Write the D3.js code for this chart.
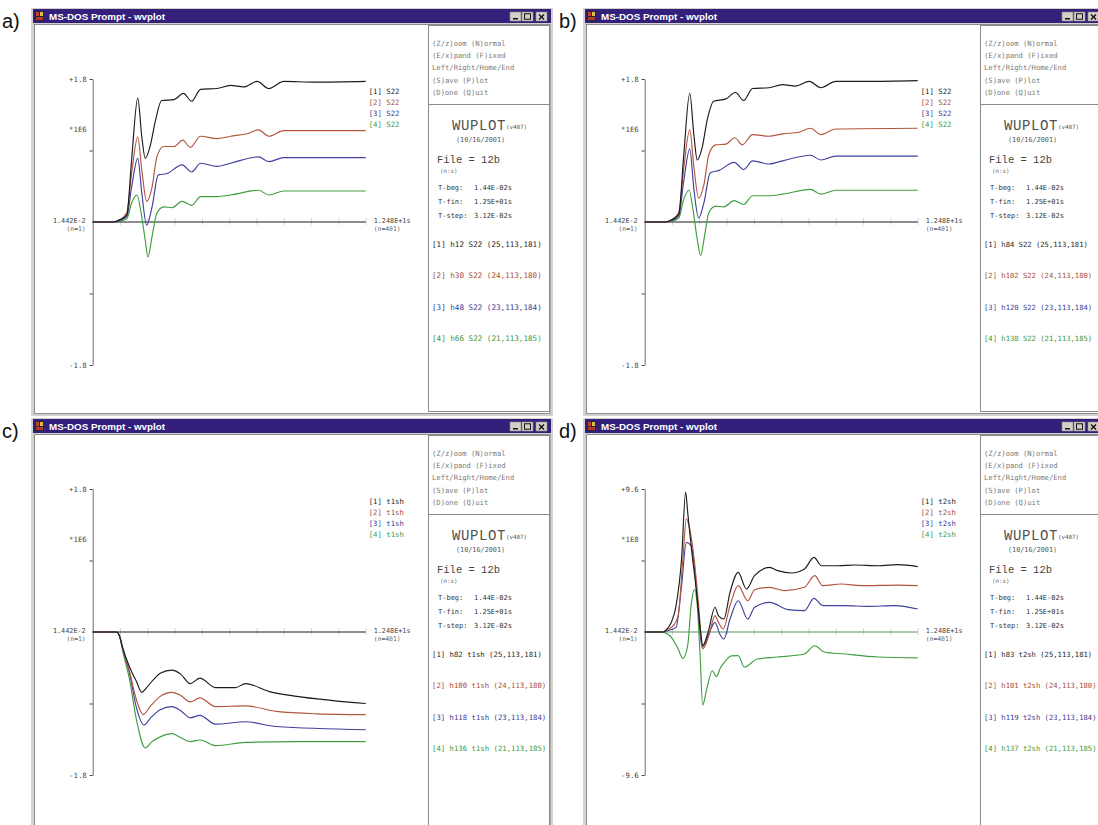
<!DOCTYPE html>
<html><head><meta charset="utf-8">
<script src="https://d3js.org/d3.v7.min.js"></script>
<style>body{margin:0;background:#fff;}svg{display:block;}</style>
</head><body>
<svg id="fig" width="1098" height="825"></svg>
<script>
// ---- wvplot traces: [sample index n, value] (n = 1 .. 401) ----
// a) S22 traces, h12 / h30 / h48 / h66  (x1E6)
const a1 = [[1,0],[31,0],[41,0.03],[51,0.09],[58,0.78],[67,1.56],[73,1.07],[78,0.80],[85,0.95],[93,1.28],[102,1.53],[120,1.54],[134,1.62],[146,1.52],[159,1.67],[183,1.68],[203,1.72],[222,1.70],[242,1.77],[259,1.68],[281,1.77],[325,1.76],[401,1.77]];
const a2 = [[1,0],[31,0],[41,0.03],[51,0.12],[58,0.61],[67,1.07],[73,0.65],[80,0.26],[88,0.44],[95,0.82],[105,0.95],[120,0.95],[133,1.03],[144,0.94],[159,1.08],[183,1.05],[203,1.08],[227,1.11],[244,1.16],[259,1.08],[281,1.15],[401,1.15]];
const a3 = [[1,0],[31,0],[41,0.02],[51,0.07],[58,0.44],[67,0.80],[73,0.36],[80,-0.04],[88,0.19],[97,0.59],[110,0.61],[132,0.72],[146,0.63],[159,0.74],[183,0.70],[203,0.74],[244,0.82],[259,0.76],[281,0.81],[401,0.81]];
const a4 = [[1,0],[31,0],[41,0.01],[51,0.04],[58,0.24],[66,0.34],[72,0.11],[78,-0.23],[82,-0.44],[88,-0.18],[95,0.11],[105,0.19],[117,0.18],[132,0.26],[146,0.21],[159,0.32],[183,0.32],[203,0.34],[244,0.40],[259,0.34],[281,0.39],[401,0.39]];

// b) S22 traces, h84 / h102 / h120 / h138  (x1E6)
const b1 = [[1,0],[31,0],[41,0.03],[51,0.10],[58,0.82],[67,1.62],[73,1.10],[78,0.78],[85,0.93],[93,1.30],[102,1.52],[120,1.55],[134,1.63],[146,1.53],[159,1.68],[183,1.69],[203,1.73],[222,1.71],[242,1.77],[259,1.69],[281,1.77],[325,1.77],[401,1.78]];
const b2 = [[1,0],[31,0],[41,0.03],[51,0.12],[58,0.66],[67,1.16],[73,0.70],[80,0.30],[88,0.48],[95,0.85],[105,0.97],[120,0.98],[133,1.06],[144,0.97],[159,1.10],[183,1.08],[203,1.11],[227,1.13],[244,1.18],[259,1.10],[281,1.17],[401,1.18]];
const b3 = [[1,0],[31,0],[41,0.02],[51,0.08],[58,0.50],[67,0.92],[73,0.42],[80,0.05],[88,0.25],[97,0.62],[110,0.65],[132,0.75],[146,0.66],[159,0.77],[183,0.73],[203,0.77],[244,0.84],[259,0.78],[281,0.83],[401,0.83]];
const b4 = [[1,0],[31,0],[41,0.01],[51,0.05],[58,0.28],[66,0.40],[72,0.14],[78,-0.22],[83,-0.42],[89,-0.16],[95,0.12],[105,0.20],[117,0.19],[132,0.27],[146,0.22],[159,0.33],[183,0.33],[203,0.35],[244,0.41],[259,0.35],[281,0.40],[401,0.40]];

// c) t1sh traces, h82 / h100 / h118 / h136  (x1E6)
const c1 = [[1,0],[36,0],[40,-0.04],[45,-0.20],[55,-0.44],[65,-0.62],[73,-0.76],[80,-0.70],[90,-0.60],[100,-0.52],[117,-0.48],[130,-0.53],[144,-0.65],[158,-0.58],[181,-0.70],[210,-0.70],[225,-0.65],[260,-0.75],[300,-0.81],[350,-0.86],[401,-0.90]];
const c2 = [[1,0],[36,0],[40,-0.04],[45,-0.21],[55,-0.50],[65,-0.85],[75,-1.04],[85,-0.94],[100,-0.81],[117,-0.76],[130,-0.80],[144,-0.88],[158,-0.83],[181,-0.94],[225,-0.93],[270,-1.00],[330,-1.03],[401,-1.04]];
const c3 = [[1,0],[36,0],[40,-0.04],[45,-0.22],[55,-0.52],[65,-0.95],[76,-1.17],[86,-1.08],[100,-0.98],[117,-0.94],[130,-0.99],[144,-1.08],[158,-1.05],[181,-1.16],[225,-1.13],[270,-1.19],[401,-1.23]];
const c4 = [[1,0],[36,0],[40,-0.05],[45,-0.24],[55,-0.60],[65,-1.10],[78,-1.46],[88,-1.38],[100,-1.32],[117,-1.28],[130,-1.33],[144,-1.38],[158,-1.36],[181,-1.43],[225,-1.39],[300,-1.38],[401,-1.38]];

// d) t2sh traces, h83 / h101 / h119 / h137  (x1E8)
const d1 = [[1,0],[28,0],[33,0.16],[40,0.65],[47,1.77],[55,4.9],[61,9.38],[64,8.03],[69,5.8],[77,2.66],[83,0],[86,-0.92],[94,0],[104,1.66],[109,1.10],[117,0.87],[126,2.66],[138,4.0],[150,2.89],[162,3.78],[184,4.34],[196,4.12],[216,3.96],[235,4.23],[249,5.01],[260,4.45],[284,4.45],[309,4.5],[343,4.45],[372,4.52],[401,4.39]];
const d2 = [[1,0],[28,0],[33,0.13],[43,0.43],[50,1.10],[57,4.9],[62,7.59],[67,6.9],[74,4.68],[80,1.77],[86,-1.14],[95,-0.25],[104,1.1],[108,0.76],[116,0.2],[126,1.77],[138,3.11],[152,2.1],[162,2.84],[184,3.0],[206,2.78],[235,3.0],[250,3.78],[262,3.11],[289,3.22],[318,3.11],[372,3.15],[401,3.11]];
const d3s = [[1,0],[28,0],[33,0.07],[47,0.31],[55,3.1],[62,6.02],[69,5.8],[74,4.23],[79,1.77],[85,-1.03],[96,0],[104,0.65],[111,-0.13],[117,-0.47],[126,0.87],[138,2.1],[152,0.87],[162,1.66],[184,1.99],[211,1.5],[235,1.43],[249,2.26],[262,1.77],[294,1.77],[328,1.72],[367,1.77],[401,1.54]];
const d4 = [[1,0],[25,0],[38,-0.25],[50,-1.14],[57,-1.77],[64,-0.92],[69,1.77],[74,2.84],[78,1.77],[82,-1.37],[86,-4.9],[92,-3.8],[100,-2.6],[106,-3.0],[112,-2.4],[120,-1.9],[128,-1.6],[138,-1.59],[147,-2.35],[166,-1.81],[196,-1.68],[235,-1.48],[250,-0.92],[264,-1.34],[294,-1.48],[343,-1.68],[401,-1.74]];

// ---- text shown in each window ----
const panelLabels = ["a)", "b)", "c)", "d)"];
const yTopLabels = ["+1.8", "+1.8", "+1.8", "+9.6"];
const yBotLabels = ["-1.8", "-1.8", "-1.8", "-9.6"];
const yMax = [1.8, 1.8, 1.8, 9.6];
const multLabels = ["*1E6", "*1E6", "*1E6", "*1E8"];
const traceNames = ["S22", "S22", "t1sh", "t2sh"];
const aInfo = ["[1] h12 S22 (25,113,181)", "[2] h30 S22 (24,113,180)", "[3] h48 S22 (23,113,184)", "[4] h66 S22 (21,113,185)"];
const bInfo = ["[1] h84 S22 (25,113,181)", "[2] h102 S22 (24,113,180)", "[3] h120 S22 (23,113,184)", "[4] h138 S22 (21,113,185)"];
const cInfo = ["[1] h82 t1sh (25,113,181)", "[2] h100 t1sh (24,113,180)", "[3] h118 t1sh (23,113,184)", "[4] h136 t1sh (21,113,185)"];
const dInfo = ["[1] h83 t2sh (25,113,181)", "[2] h101 t2sh (24,113,180)", "[3] h119 t2sh (23,113,184)", "[4] h137 t2sh (21,113,185)"];
const menuLines = ["(Z/z)oom  (N)ormal", "(E/x)pand (F)ixed", "Left/Right/Home/End", "(S)ave (P)lot", "(D)one (Q)uit"];
const timeRows = [["T-beg:", "1.44E-02s"], ["T-fin:", "1.25E+01s"], ["T-step:", "3.12E-02s"]];
const xStartLabel = ["1.442E-2", "(n=1)"];
const xEndLabel = ["1.248E+1s", "(n=401)"];
const windowTitle = "MS-DOS Prompt - wvplot";

// ---- styling ----
const MONO = "'DejaVu Sans Mono','Liberation Mono',monospace";
const THIN = "'Liberation Mono','DejaVu Sans Mono',monospace";
const SANS = "'Liberation Sans',Arial,sans-serif";
const lineColors = ["#1c1c1c", "#b3553e", "#40409e", "#3f9f3f"];
const textColors = ["#262626", "#a64c36", "#3b3b92", "#3a983a"];
const TITLE_BG = "#34207b";

const windows = [
  {ox: 32,  oy: 8,   h: 408, lx: 2,   ly: 28,  series: [a1, a2, a3, a4], info: aInfo, infoSize: 7.6, zeroColor: "#1a1a1a"},
  {ox: 584, oy: 8,   h: 408, lx: 559, ly: 28,  series: [b1, b2, b3, b4], info: bInfo, infoSize: 7.2, zeroColor: "#1a1a1a"},
  {ox: 32,  oy: 418, h: 420, lx: 2,   ly: 438, series: [c1, c2, c3, c4], info: cInfo, infoSize: 7.3, zeroColor: "#1a1a1a"},
  {ox: 584, oy: 418, h: 420, lx: 559, ly: 438, series: [d1, d2, d3s, d4], info: dInfo, infoSize: 7.2, zeroColor: "#5c935c"}
];

const W = 521;          // window width
const AX = 60.7;        // y-axis position inside window
const AXW = 273;        // x-axis length
const ZY = 214;         // zero line inside window
const HH = 143;         // half plot height
const PL = 396, PR = 517; // info panel edges

const svg = d3.select("#fig");

windows.forEach((w, i) => {
  const g = svg.append("g").attr("transform", `translate(${w.ox},${w.oy})`);

  // window frame
  g.append("rect").attr("x", -1).attr("y", 0).attr("width", W + 1).attr("height", w.h)
    .attr("fill", "#d3d1cd");
  g.append("rect").attr("x", 1).attr("y", 1).attr("width", W - 3).attr("height", 14)
    .attr("fill", TITLE_BG);
  // title icon
  g.append("rect").attr("x", 3).attr("y", 3).attr("width", 9).attr("height", 10).attr("fill", "#2a2a2a");
  g.append("rect").attr("x", 4).attr("y", 4).attr("width", 3).attr("height", 4).attr("fill", "#c84030");
  g.append("rect").attr("x", 8).attr("y", 4).attr("width", 3).attr("height", 4).attr("fill", "#e0c040");
  g.append("rect").attr("x", 4).attr("y", 9).attr("width", 7).attr("height", 3).attr("fill", "#b03a2a");
  g.append("text").attr("x", 17).attr("y", 12).text(windowTitle)
    .attr("font-family", SANS).attr("font-weight", "bold").attr("font-size", 9.8).attr("fill", "#fff");
  // caption buttons
  [478, 490, 504].forEach((bx, k) => {
    g.append("rect").attr("x", bx).attr("y", 4).attr("width", 11).attr("height", 9)
      .attr("fill", "#d4d0c8").attr("stroke", "#8a8a8a").attr("stroke-width", 0.6);
    if (k === 0) g.append("rect").attr("x", bx + 3).attr("y", 10).attr("width", 5).attr("height", 1.5).attr("fill", "#111");
    if (k === 1) g.append("rect").attr("x", bx + 2.5).attr("y", 5.8).attr("width", 6).attr("height", 5.4)
      .attr("fill", "none").attr("stroke", "#111").attr("stroke-width", 1);
    if (k === 2) g.append("path").attr("d", `M${bx+3},6.5L${bx+8},11.5M${bx+8},6.5L${bx+3},11.5`)
      .attr("stroke", "#111").attr("stroke-width", 1.4);
  });

  // client area
  g.append("rect").attr("x", 2.5).attr("y", 16.5).attr("width", W - 5.5).attr("height", w.h - 19)
    .attr("fill", "#fff").attr("stroke", "#8c8c8c").attr("stroke-width", 1);
  // info panel
  g.append("rect").attr("x", PL + 0.5).attr("y", 17.5).attr("width", PR - PL).attr("height", w.h - 22)
    .attr("fill", "#fff").attr("stroke", "#8a8a8a").attr("stroke-width", 1);
  g.append("line").attr("x1", PL).attr("x2", PR).attr("y1", 96.5).attr("y2", 96.5)
    .attr("stroke", "#8a8a8a").attr("stroke-width", 1);

  // info panel text
  menuLines.forEach((t, k) => {
    g.append("text").attr("x", PL + 4).attr("y", 37.5 + k * 12.4).text(t)
      .attr("font-family", MONO).attr("font-size", 7.2).attr("fill", "#7a7a7a");
  });
  g.append("text").attr("x", PL + 24).attr("y", 122).text("WUPLOT")
    .attr("font-family", THIN).attr("font-size", 14).attr("fill", "#505050").attr("letter-spacing", 0.6);
  g.append("text").attr("x", PL + 78).attr("y", 121).text("(v407)")
    .attr("font-family", MONO).attr("font-size", 5.8).attr("fill", "#555");
  g.append("text").attr("x", PL + 28).attr("y", 134).text("(10/16/2001)")
    .attr("font-family", MONO).attr("font-size", 6.8).attr("fill", "#555");
  g.append("text").attr("x", PL + 9).attr("y", 155).text("File = 12b")
    .attr("font-family", THIN).attr("font-size", 10.5).attr("fill", "#444");
  g.append("text").attr("x", PL + 12).attr("y", 164.5).text("(n:s)")
    .attr("font-family", MONO).attr("font-size", 5.8).attr("fill", "#666");
  timeRows.forEach((r, k) => {
    const y = 181.5 + k * 14;
    g.append("text").attr("x", PL + 10).attr("y", y).text(r[0])
      .attr("font-family", MONO).attr("font-size", 7).attr("fill", "#333");
    g.append("text").attr("x", PL + 46).attr("y", y).text(r[1])
      .attr("font-family", MONO).attr("font-size", 7).attr("fill", "#333");
  });
  w.info.forEach((t, k) => {
    g.append("text").attr("x", PL + 4).attr("y", 238.5 + k * 31.5).text(t)
      .attr("font-family", MONO).attr("font-size", w.infoSize).attr("fill", textColors[k]);
  });

  // scales
  const x = d3.scaleLinear().domain([1, 401]).range([AX, AX + AXW]);
  const y = d3.scaleLinear().domain([-yMax[i], yMax[i]]).range([ZY + HH, ZY - HH]);

  // faint x divisions
  const xAxis = d3.axisBottom(x).tickValues(d3.range(1, 402, 40).slice(1)).tickSize(7).tickFormat("").tickSizeOuter(0);
  const xg = g.append("g").attr("transform", `translate(0,${ZY - 4})`).call(xAxis);
  xg.select(".domain").remove();
  xg.selectAll(".tick line").attr("stroke", "#d4d4d4").attr("stroke-width", 1);

  // y axis
  const yAxis = d3.axisLeft(y).tickValues([-yMax[i], -yMax[i] / 2, yMax[i] / 2, yMax[i]])
    .tickSize(3).tickSizeOuter(0).tickFormat("");
  const yg = g.append("g").attr("transform", `translate(${AX},0)`).call(yAxis);
  yg.select(".domain").attr("stroke", "#6c6c6c").attr("stroke-width", 1);
  yg.selectAll(".tick line").attr("stroke", "#444").attr("stroke-width", 1);

  const lbl = (tx, ty, s, anchor, fill, size) => g.append("text").attr("x", tx).attr("y", ty).text(s)
    .attr("font-family", MONO).attr("font-size", size || 7.3).attr("fill", fill || "#444")
    .attr("text-anchor", anchor || "start");
  lbl(AX - 6, y(yMax[i]) + 2.5, yTopLabels[i], "end");
  lbl(AX - 6, y(-yMax[i]) + 2.5, yBotLabels[i], "end");
  lbl(AX - 6, 123.5, multLabels[i], "end");
  lbl(AX - 7, ZY + 0.5, xStartLabel[0], "end", "#444", 6.8);
  lbl(AX - 7, ZY + 9, xStartLabel[1], "end", "#666", 6.4);
  lbl(AX + AXW + 8, ZY + 0.5, xEndLabel[0], "start", "#444", 6.8);
  lbl(AX + AXW + 8, ZY + 9, xEndLabel[1], "start", "#666", 6.4);

  // zero line
  g.append("line").attr("x1", x(1)).attr("x2", x(401)).attr("y1", y(0)).attr("y2", y(0))
    .attr("stroke", w.zeroColor).attr("stroke-width", 1.1);

  // in-plot legend
  w.series.forEach((s, k) => {
    lbl(AX + AXW + 3, 85.5 + k * 11, `[${k + 1}] ${traceNames[i]}`, "start", textColors[k]);
  });

  // traces (green first so black stays on top)
  const line = d3.line().x(d => x(d[0])).y(d => y(d[1])).curve(d3.curveMonotoneX);
  [3, 2, 1, 0].forEach(k => {
    g.append("path").datum(w.series[k]).attr("d", line)
      .attr("fill", "none").attr("stroke", lineColors[k]).attr("stroke-width", 1.15);
  });

  // panel letter
  svg.append("text").attr("x", w.lx).attr("y", w.ly).text(panelLabels[i])
    .attr("font-family", SANS).attr("font-size", 20).attr("fill", "#111");
});
</script>
</body></html>
